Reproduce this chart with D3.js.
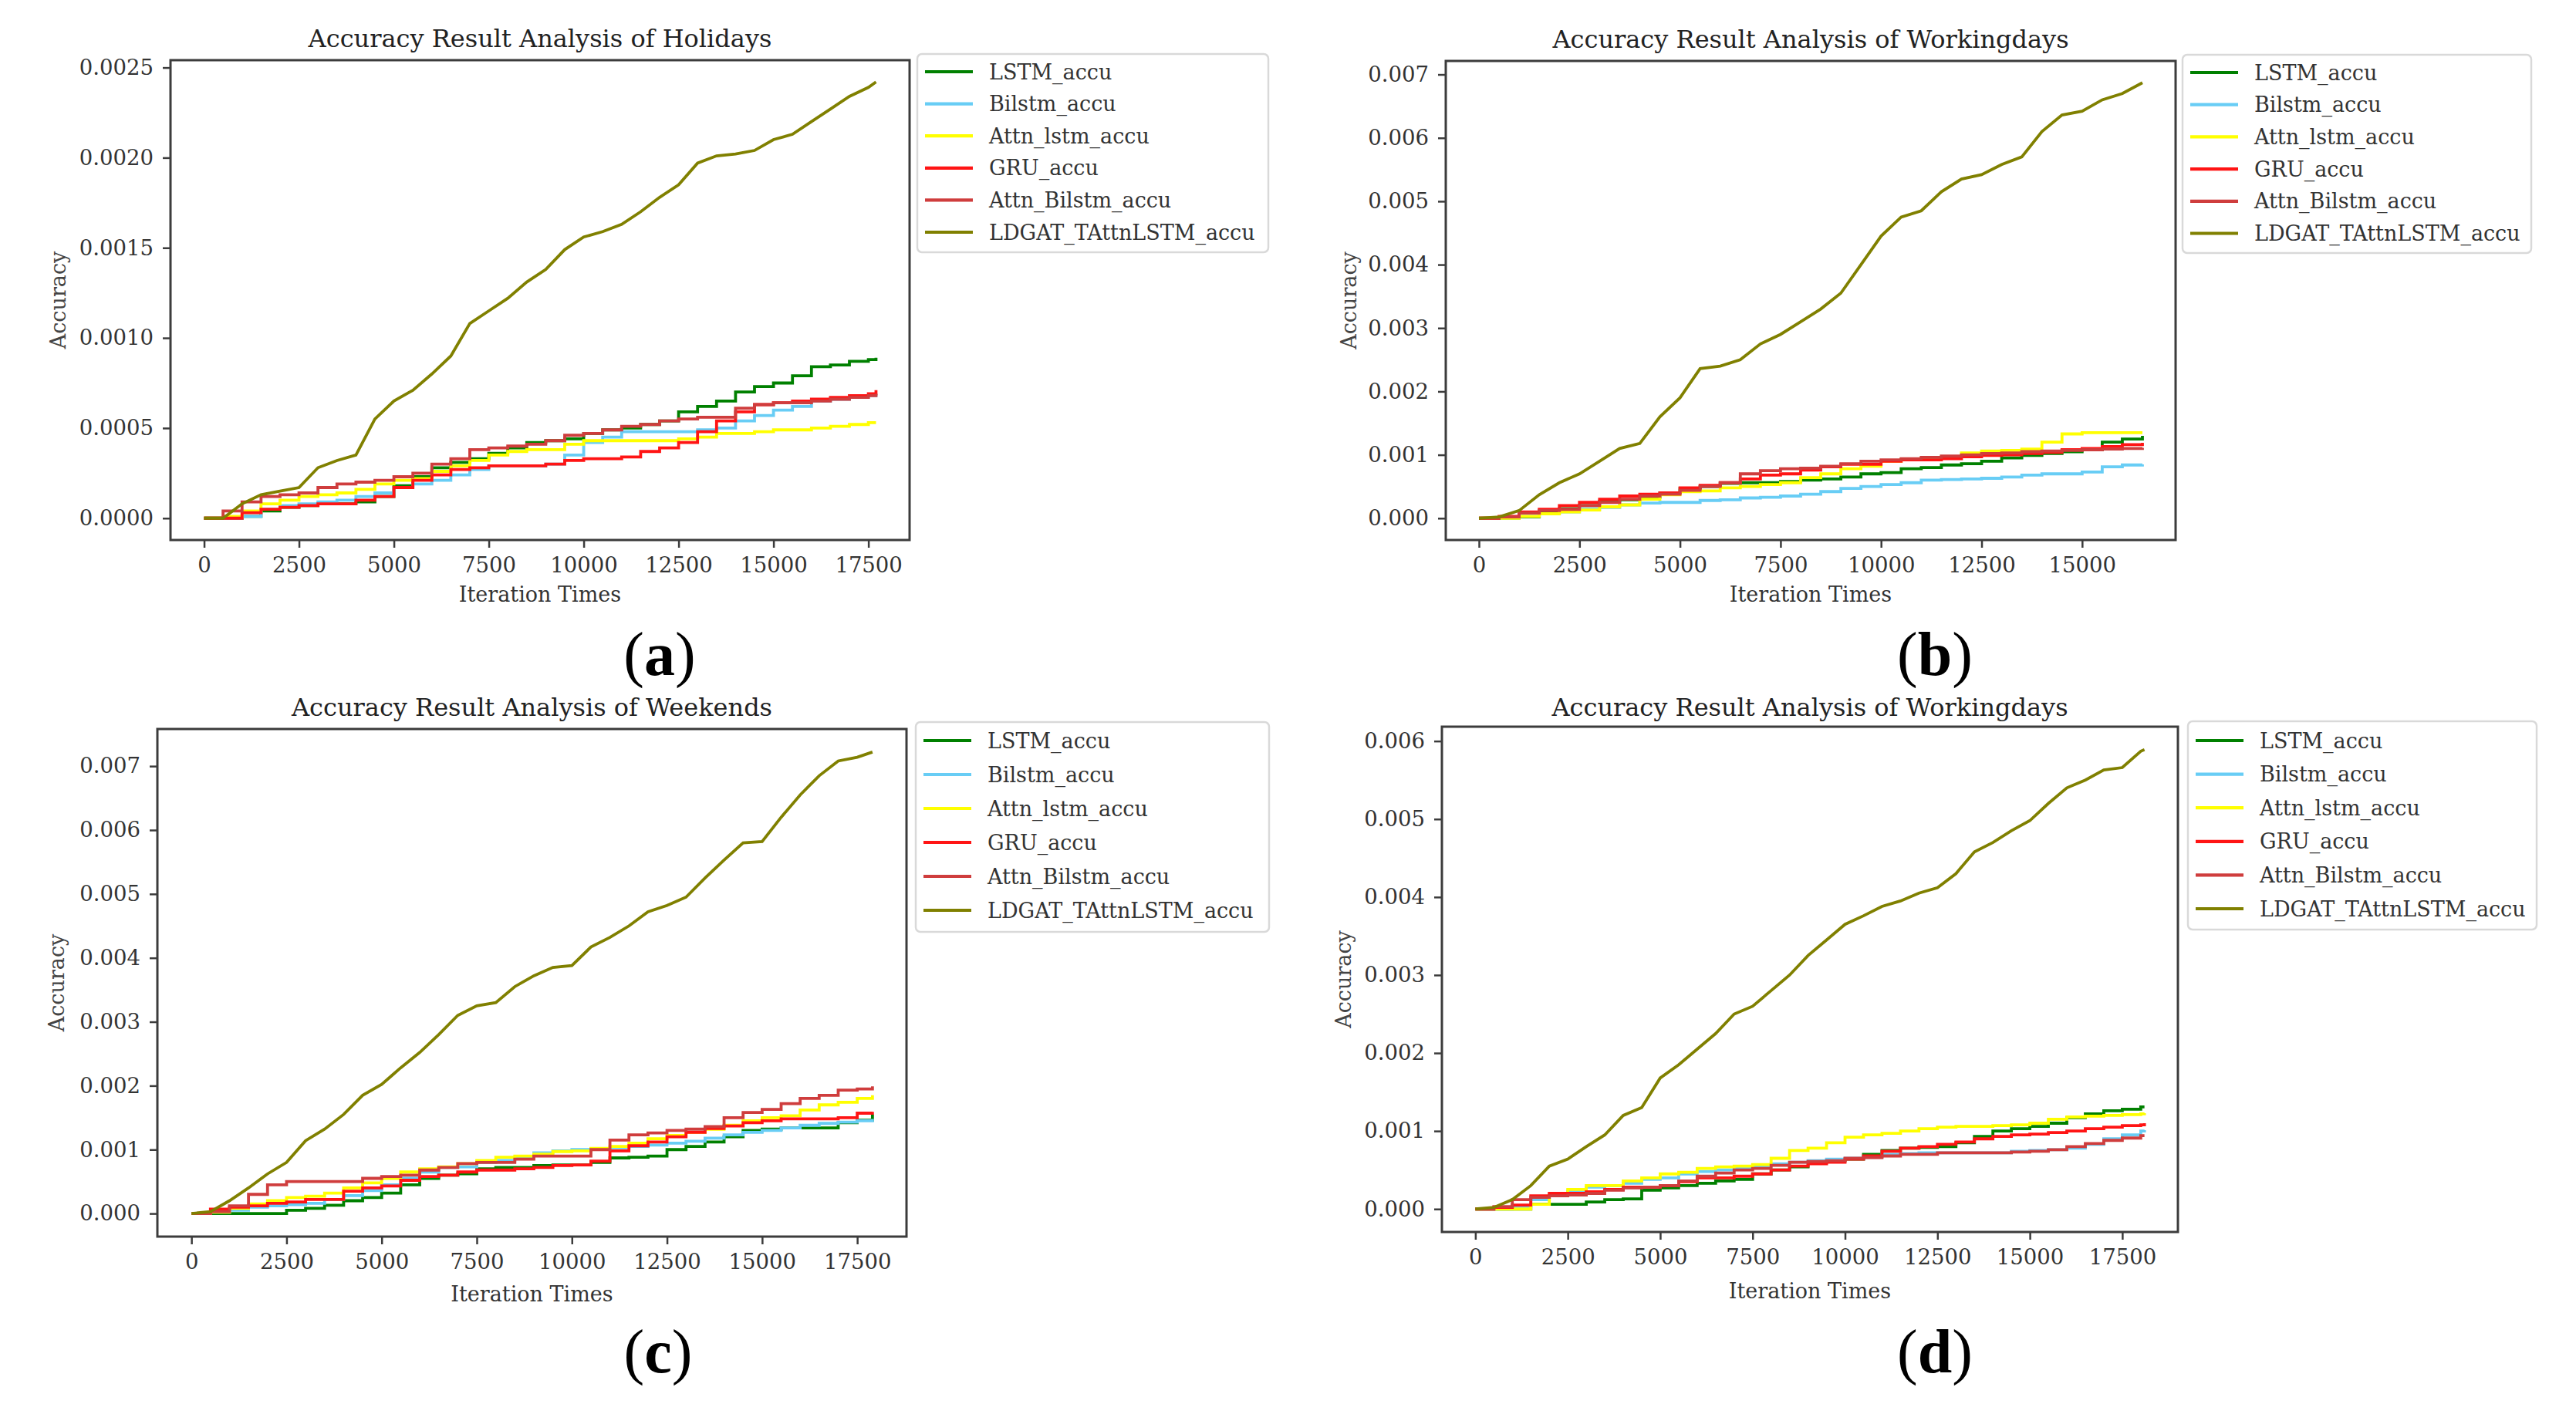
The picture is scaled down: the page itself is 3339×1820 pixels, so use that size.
<!DOCTYPE html>
<html>
<head>
<meta charset="utf-8">
<script src="https://cdn.jsdelivr.net/npm/d3@7"></script>
<style>
  body { margin: 0; background: #fff; }
  svg text { font-family: "DejaVu Serif", serif; }
</style>
</head>
<body>
<svg id="chart" width="3339" height="1820"></svg>
<script>
// ============================================
// DATA
// ============================================

const seriesNames = ['LSTM_accu', 'Bilstm_accu', 'Attn_lstm_accu', 'GRU_accu', 'Attn_Bilstm_accu', 'LDGAT_TAttnLSTM_accu'];
const seriesColors = ['#008000', '#68cdf5', '#ffff00', '#ff1414', '#cf3d3d', '#808000'];

const xTicksLong = [0, 2500, 5000, 7500, 10000, 12500, 15000, 17500];
const xTicksShort = [0, 2500, 5000, 7500, 10000, 12500, 15000];
const yTicksHolidays = [0, 0.0005, 0.0010, 0.0015, 0.0020, 0.0025];
const yTicksSeven = [0, 0.001, 0.002, 0.003, 0.004, 0.005, 0.006, 0.007];
const yTicksSix = [0, 0.001, 0.002, 0.003, 0.004, 0.005, 0.006];

// (a) Holidays
const itersA = [0, 500, 1000, 1500, 2000, 2500, 3000, 3500, 4000, 4500, 5000, 5500, 6000, 6500, 7000, 7500, 8000, 8500, 9000, 9500, 10000, 10500, 11000, 11500, 12000, 12500, 13000, 13500, 14000, 14500, 15000, 15500, 16000, 16500, 17000, 17500, 17700];
const lstmA = [0, 0, 0.00001, 0.00004, 0.00006, 0.00007, 0.00008, 0.00008, 0.00009, 0.00012, 0.00018, 0.00023, 0.00028, 0.00031, 0.00033, 0.00036, 0.00039, 0.00042, 0.00043, 0.00044, 0.00047, 0.00049, 0.00050, 0.00052, 0.00054, 0.00059, 0.00062, 0.00065, 0.00070, 0.00073, 0.00075, 0.00079, 0.00084, 0.00085, 0.00087, 0.00088, 0.00089];
const bilstmA = [0, 0, 0.00001, 0.00005, 0.00007, 0.00008, 0.00009, 0.00010, 0.00012, 0.00014, 0.00017, 0.00019, 0.00021, 0.00024, 0.00027, 0.00029, 0.00029, 0.00029, 0.00030, 0.00035, 0.00042, 0.00045, 0.00048, 0.00048, 0.00048, 0.00048, 0.00049, 0.00050, 0.00054, 0.00057, 0.00060, 0.00062, 0.00065, 0.00066, 0.00067, 0.00068, 0.00069];
const attnLstmA = [0, 0.00001, 0.00004, 0.00008, 0.00010, 0.00012, 0.00013, 0.00014, 0.00016, 0.00019, 0.00021, 0.00022, 0.00026, 0.00029, 0.00032, 0.00035, 0.00037, 0.00038, 0.00038, 0.00041, 0.00043, 0.00043, 0.00043, 0.00043, 0.00043, 0.00044, 0.00045, 0.00047, 0.00047, 0.00048, 0.00049, 0.00049, 0.00050, 0.00051, 0.00052, 0.00053, 0.00053];
const gruA = [0, 0, 0.00003, 0.00005, 0.00006, 0.00007, 0.00008, 0.00008, 0.00010, 0.00012, 0.00017, 0.00021, 0.00024, 0.00027, 0.00028, 0.00029, 0.00029, 0.00029, 0.00030, 0.00032, 0.00033, 0.00033, 0.00034, 0.00037, 0.00039, 0.00042, 0.00048, 0.00054, 0.00059, 0.00063, 0.00064, 0.00065, 0.00066, 0.00067, 0.00068, 0.00069, 0.00071];
const attnBilstmA = [0, 0.00004, 0.00009, 0.00012, 0.00013, 0.00014, 0.00017, 0.00019, 0.00020, 0.00021, 0.00023, 0.00025, 0.00030, 0.00033, 0.00038, 0.00039, 0.00040, 0.00041, 0.00043, 0.00046, 0.00047, 0.00049, 0.00051, 0.00052, 0.00054, 0.00055, 0.00056, 0.00056, 0.00061, 0.00063, 0.00064, 0.00064, 0.00065, 0.00066, 0.00067, 0.00068, 0.00069];
const ldgatA = [0, 0, 0.00008, 0.00013, 0.00015, 0.00017, 0.00028, 0.00032, 0.00035, 0.00055, 0.00065, 0.00071, 0.00080, 0.00090, 0.00108, 0.00115, 0.00122, 0.00131, 0.00138, 0.00149, 0.00156, 0.00159, 0.00163, 0.00170, 0.00178, 0.00185, 0.00197, 0.00201, 0.00202, 0.00204, 0.00210, 0.00213, 0.00220, 0.00227, 0.00234, 0.00239, 0.00242];

// (b) Workingdays
const itersB = [0, 500, 1000, 1500, 2000, 2500, 3000, 3500, 4000, 4500, 5000, 5500, 6000, 6500, 7000, 7500, 8000, 8500, 9000, 9500, 10000, 10500, 11000, 11500, 12000, 12500, 13000, 13500, 14000, 14500, 15000, 15500, 16000, 16500];
const lstmB = [0, 0, 0.00002, 0.00010, 0.00015, 0.00020, 0.00027, 0.00029, 0.00033, 0.00040, 0.00047, 0.00050, 0.00055, 0.00056, 0.00056, 0.00058, 0.00060, 0.00062, 0.00065, 0.00070, 0.00072, 0.00078, 0.00080, 0.00084, 0.00086, 0.00090, 0.00095, 0.00099, 0.00102, 0.00105, 0.00108, 0.00120, 0.00125, 0.00130];
const bilstmB = [0, 0, 0.00003, 0.00007, 0.00010, 0.00014, 0.00017, 0.00021, 0.00024, 0.00025, 0.00025, 0.00028, 0.00029, 0.00032, 0.00033, 0.00035, 0.00038, 0.00042, 0.00047, 0.00050, 0.00053, 0.00056, 0.00060, 0.00061, 0.00062, 0.00063, 0.00065, 0.00068, 0.00070, 0.00070, 0.00073, 0.00081, 0.00084, 0.00085];
const attnLstmB = [0, 0, 0.00003, 0.00007, 0.00010, 0.00013, 0.00018, 0.00021, 0.00030, 0.00037, 0.00042, 0.00043, 0.00048, 0.00050, 0.00053, 0.00056, 0.00064, 0.00070, 0.00078, 0.00082, 0.00090, 0.00093, 0.00095, 0.00097, 0.00103, 0.00106, 0.00107, 0.00109, 0.00120, 0.00133, 0.00135, 0.00135, 0.00135, 0.00135];
const gruB = [0, 0.00003, 0.00010, 0.00014, 0.00020, 0.00025, 0.00030, 0.00035, 0.00038, 0.00040, 0.00048, 0.00052, 0.00056, 0.00062, 0.00068, 0.00070, 0.00076, 0.00081, 0.00085, 0.00085, 0.00090, 0.00092, 0.00092, 0.00094, 0.00097, 0.00099, 0.00100, 0.00102, 0.00104, 0.00108, 0.00110, 0.00113, 0.00116, 0.00119];
const attnBilstmB = [0, 0.00002, 0.00008, 0.00012, 0.00014, 0.00020, 0.00025, 0.00030, 0.00035, 0.00038, 0.00044, 0.00050, 0.00056, 0.00070, 0.00075, 0.00078, 0.00079, 0.00082, 0.00086, 0.00090, 0.00092, 0.00094, 0.00096, 0.00098, 0.00100, 0.00102, 0.00103, 0.00105, 0.00106, 0.00107, 0.00108, 0.00109, 0.00110, 0.00111];
const ldgatB = [0, 0.00002, 0.00012, 0.00037, 0.00056, 0.00070, 0.00090, 0.00110, 0.00118, 0.00160, 0.00190, 0.00236, 0.00240, 0.00250, 0.00275, 0.00290, 0.00310, 0.00330, 0.00355, 0.00400, 0.00445, 0.00475, 0.00485, 0.00515, 0.00535, 0.00542, 0.00558, 0.00570, 0.00610, 0.00636, 0.00642, 0.00660, 0.00670, 0.00687];

// (c) Weekends
const itersC = [0, 500, 1000, 1500, 2000, 2500, 3000, 3500, 4000, 4500, 5000, 5500, 6000, 6500, 7000, 7500, 8000, 8500, 9000, 9500, 10000, 10500, 11000, 11500, 12000, 12500, 13000, 13500, 14000, 14500, 15000, 15500, 16000, 16500, 17000, 17500, 17900];
const lstmC = [0, 0, 0, 0, 0, 0.00005, 0.00008, 0.00013, 0.00020, 0.00025, 0.00032, 0.00045, 0.00055, 0.00060, 0.00062, 0.00070, 0.00072, 0.00072, 0.00075, 0.00076, 0.00076, 0.00080, 0.00087, 0.00088, 0.00090, 0.00100, 0.00105, 0.00112, 0.00120, 0.00130, 0.00132, 0.00134, 0.00134, 0.00134, 0.00142, 0.00146, 0.00155];
const bilstmC = [0, 0.00002, 0.00005, 0.00010, 0.00012, 0.00014, 0.00016, 0.00022, 0.00028, 0.00036, 0.00045, 0.00055, 0.00065, 0.00072, 0.00073, 0.00080, 0.00083, 0.00088, 0.00095, 0.00098, 0.00100, 0.00101, 0.00103, 0.00105, 0.00107, 0.00110, 0.00113, 0.00118, 0.00123, 0.00127, 0.00130, 0.00134, 0.00138, 0.00141, 0.00143, 0.00145, 0.00148];
const attnLstmC = [0, 0.00002, 0.00008, 0.00015, 0.00020, 0.00025, 0.00027, 0.00032, 0.00040, 0.00048, 0.00055, 0.00065, 0.00070, 0.00073, 0.00078, 0.00083, 0.00088, 0.00090, 0.00093, 0.00097, 0.00098, 0.00102, 0.00105, 0.00110, 0.00117, 0.00122, 0.00127, 0.00132, 0.00138, 0.00145, 0.00150, 0.00153, 0.00162, 0.00170, 0.00174, 0.00180, 0.00185];
const gruC = [0, 0.00007, 0.00010, 0.00012, 0.00016, 0.00018, 0.00022, 0.00022, 0.00035, 0.00040, 0.00043, 0.00052, 0.00058, 0.00060, 0.00065, 0.00068, 0.00068, 0.00070, 0.00072, 0.00075, 0.00076, 0.00082, 0.00098, 0.00106, 0.00112, 0.00120, 0.00127, 0.00133, 0.00137, 0.00142, 0.00145, 0.00148, 0.00148, 0.00148, 0.00150, 0.00157, 0.00159];
const attnBilstmC = [0, 0.00003, 0.00012, 0.00030, 0.00045, 0.00050, 0.00050, 0.00050, 0.00050, 0.00055, 0.00058, 0.00060, 0.00068, 0.00072, 0.00078, 0.00080, 0.00080, 0.00085, 0.00090, 0.00090, 0.00090, 0.00100, 0.00115, 0.00123, 0.00126, 0.00130, 0.00132, 0.00136, 0.00150, 0.00158, 0.00163, 0.00172, 0.00180, 0.00185, 0.00193, 0.00195, 0.00199];
const ldgatC = [0, 0.00003, 0.00020, 0.00040, 0.00062, 0.00080, 0.00114, 0.00132, 0.00155, 0.00185, 0.00202, 0.00228, 0.00252, 0.00280, 0.00310, 0.00325, 0.00330, 0.00355, 0.00372, 0.00385, 0.00388, 0.00417, 0.00432, 0.00450, 0.00472, 0.00482, 0.00495, 0.00525, 0.00553, 0.00580, 0.00582, 0.00620, 0.00655, 0.00685, 0.00708, 0.00714, 0.00722];

// (d) Workingdays
const itersD = [0, 500, 1000, 1500, 2000, 2500, 3000, 3500, 4000, 4500, 5000, 5500, 6000, 6500, 7000, 7500, 8000, 8500, 9000, 9500, 10000, 10500, 11000, 11500, 12000, 12500, 13000, 13500, 14000, 14500, 15000, 15500, 16000, 16500, 17000, 17500, 18000, 18100];
const lstmD = [0, 0, 0, 0.00006, 0.00006, 0.00006, 0.00009, 0.00012, 0.00013, 0.00024, 0.00027, 0.00030, 0.00033, 0.00036, 0.00038, 0.00045, 0.00050, 0.00054, 0.00060, 0.00062, 0.00064, 0.00070, 0.00075, 0.00078, 0.00079, 0.00080, 0.00085, 0.00093, 0.00100, 0.00103, 0.00106, 0.00110, 0.00117, 0.00122, 0.00126, 0.00128, 0.00131, 0.00131];
const bilstmD = [0, 0, 0.00003, 0.00012, 0.00018, 0.00023, 0.00028, 0.00030, 0.00033, 0.00038, 0.00040, 0.00045, 0.00048, 0.00050, 0.00052, 0.00055, 0.00058, 0.00060, 0.00062, 0.00064, 0.00065, 0.00067, 0.00070, 0.00071, 0.00072, 0.00072, 0.00072, 0.00072, 0.00072, 0.00074, 0.00075, 0.00076, 0.00078, 0.00083, 0.00090, 0.00095, 0.00100, 0.00101];
const attnLstmD = [0, 0, 0, 0.00006, 0.00018, 0.00025, 0.00030, 0.00030, 0.00036, 0.00040, 0.00045, 0.00047, 0.00052, 0.00054, 0.00055, 0.00057, 0.00065, 0.00075, 0.00078, 0.00085, 0.00092, 0.00095, 0.00097, 0.00100, 0.00103, 0.00105, 0.00106, 0.00106, 0.00107, 0.00108, 0.00110, 0.00115, 0.00118, 0.00119, 0.00120, 0.00121, 0.00122, 0.00123];
const gruD = [0, 0.00002, 0.00005, 0.00017, 0.00020, 0.00020, 0.00022, 0.00025, 0.00028, 0.00028, 0.00030, 0.00035, 0.00040, 0.00040, 0.00042, 0.00045, 0.00050, 0.00055, 0.00058, 0.00060, 0.00064, 0.00068, 0.00074, 0.00078, 0.00080, 0.00083, 0.00086, 0.00090, 0.00093, 0.00095, 0.00096, 0.00098, 0.00100, 0.00103, 0.00105, 0.00107, 0.00108, 0.00110];
const attnBilstmD = [0, 0.00003, 0.00012, 0.00015, 0.00017, 0.00018, 0.00020, 0.00024, 0.00027, 0.00028, 0.00030, 0.00036, 0.00042, 0.00046, 0.00050, 0.00052, 0.00056, 0.00060, 0.00061, 0.00062, 0.00065, 0.00066, 0.00068, 0.00070, 0.00070, 0.00072, 0.00072, 0.00072, 0.00072, 0.00073, 0.00074, 0.00076, 0.00080, 0.00084, 0.00088, 0.00091, 0.00094, 0.00094];
const ldgatD = [0, 0.00002, 0.00012, 0.00030, 0.00055, 0.00064, 0.00080, 0.00095, 0.00120, 0.00130, 0.00168, 0.00185, 0.00205, 0.00225, 0.00250, 0.00260, 0.00280, 0.00300, 0.00325, 0.00345, 0.00365, 0.00376, 0.00388, 0.00395, 0.00405, 0.00412, 0.00430, 0.00458, 0.00470, 0.00485, 0.00498, 0.00520, 0.00540, 0.00550, 0.00563, 0.00566, 0.00587, 0.00589];

// ============================================
// PANEL LAYOUT
// ============================================

const panels = [
    {
        title: 'Accuracy Result Analysis of Holidays', tag: 'a',
        iters: itersA, series: [lstmA, bilstmA, attnLstmA, gruA, attnBilstmA, ldgatA],
        xTicks: xTicksLong, yTicks: yTicksHolidays, yFormat: d3.format('.4f'),
        box: { left: 221, right: 1179, top: 78, bottom: 700 },
        legend: { x: 1189, y: 70, w: 455, h: 257, row0: 93, gap: 41.6 },
        titleY: 61, xLabelY: 780, yLabelX: 75, tagX: 855, tagY: 875
    },
    {
        title: 'Accuracy Result Analysis of Workingdays', tag: 'b',
        iters: itersB, series: [lstmB, bilstmB, attnLstmB, gruB, attnBilstmB, ldgatB],
        xTicks: xTicksShort, yTicks: yTicksSeven, yFormat: d3.format('.3f'),
        box: { left: 1874, right: 2820, top: 79, bottom: 700 },
        legend: { x: 2829, y: 71, w: 452, h: 257, row0: 94, gap: 41.7 },
        titleY: 62, xLabelY: 780, yLabelX: 1748, tagX: 2508, tagY: 875
    },
    {
        title: 'Accuracy Result Analysis of Weekends', tag: 'c',
        iters: itersC, series: [lstmC, bilstmC, attnLstmC, gruC, attnBilstmC, ldgatC],
        xTicks: xTicksLong, yTicks: yTicksSeven, yFormat: d3.format('.3f'),
        box: { left: 204, right: 1175, top: 945, bottom: 1603 },
        legend: { x: 1187, y: 936, w: 458, h: 272, row0: 960, gap: 44 },
        titleY: 928, xLabelY: 1687, yLabelX: 73, tagX: 853, tagY: 1779
    },
    {
        title: 'Accuracy Result Analysis of Workingdays', tag: 'd',
        iters: itersD, series: [lstmD, bilstmD, attnLstmD, gruD, attnBilstmD, ldgatD],
        xTicks: xTicksLong, yTicks: yTicksSix, yFormat: d3.format('.3f'),
        box: { left: 1869, right: 2823, top: 942, bottom: 1597 },
        legend: { x: 2836, y: 935, w: 452, h: 270, row0: 960, gap: 43.6 },
        titleY: 928, xLabelY: 1683, yLabelX: 1741, tagX: 2508, tagY: 1779
    }
];

const svg = d3.select('#chart');
svg.append('rect').attr('width', 3339).attr('height', 1820).attr('fill', '#fff');

panels.forEach(p => drawPanel(p));

// ============================================
// PANEL RENDERING
// ============================================

function drawPanel(p) {
    const b = p.box;
    const g = svg.append('g');

    // matplotlib-style 5% margins around the data
    const xMax = d3.max(p.iters);
    const yMax = d3.max(p.series, s => d3.max(s));
    const x = d3.scaleLinear().domain([-0.05 * xMax, 1.05 * xMax]).range([b.left, b.right]);
    const y = d3.scaleLinear().domain([-0.05 * yMax, 1.05 * yMax]).range([b.bottom, b.top]);

    // Baselines are stair-steps; the fast-rising LDGAT curve has many tiny
    // steps, which read as a jagged straight run at this sampling.
    const stepLine = d3.line().x(d => x(d[0])).y(d => y(d[1])).curve(d3.curveStepAfter);
    const runLine = d3.line().x(d => x(d[0])).y(d => y(d[1]));

    p.series.forEach((vals, i) => {
        const pts = p.iters.map((it, k) => [it, vals[k]]);
        const isLast = i === p.series.length - 1;
        g.append('path')
            .datum(pts)
            .attr('d', isLast ? runLine : stepLine)
            .attr('fill', 'none')
            .attr('stroke', seriesColors[i])
            .attr('stroke-width', 3.8)
            .attr('stroke-linejoin', 'miter');
    });

    // Axes
    const xAxis = g.append('g')
        .attr('transform', `translate(0,${b.bottom})`)
        .call(d3.axisBottom(x).tickValues(p.xTicks).tickFormat(d3.format('d')).tickSize(10).tickPadding(12));
    const yAxis = g.append('g')
        .attr('transform', `translate(${b.left},0)`)
        .call(d3.axisLeft(y).tickValues(p.yTicks).tickFormat(p.yFormat).tickSize(10).tickPadding(12));

    [xAxis, yAxis].forEach(ax => {
        ax.select('.domain').remove();
        ax.selectAll('.tick line').attr('stroke', '#3c3c3c').attr('stroke-width', 2.5);
        ax.selectAll('.tick text')
            .attr('fill', '#333')
            .style('font-family', '"DejaVu Serif", serif')
            .style('font-size', '27.5px');
    });

    // Frame
    g.append('rect')
        .attr('x', b.left).attr('y', b.top)
        .attr('width', b.right - b.left).attr('height', b.bottom - b.top)
        .attr('fill', 'none')
        .attr('stroke', '#3c3c3c')
        .attr('stroke-width', 3);

    // Title and axis labels
    g.append('text')
        .attr('x', (b.left + b.right) / 2).attr('y', p.titleY)
        .attr('text-anchor', 'middle')
        .attr('fill', '#222')
        .style('font-size', '32px')
        .text(p.title);

    g.append('text')
        .attr('x', (b.left + b.right) / 2).attr('y', p.xLabelY)
        .attr('text-anchor', 'middle')
        .attr('fill', '#333')
        .style('font-size', '27px')
        .text('Iteration Times');

    g.append('text')
        .attr('transform', `translate(${p.yLabelX},${(b.top + b.bottom) / 2}) rotate(-90)`)
        .attr('text-anchor', 'middle')
        .attr('dominant-baseline', 'central')
        .attr('fill', '#444')
        .style('font-size', '27px')
        .text('Accuracy');

    // Legend
    const L = p.legend;
    const lg = g.append('g');
    lg.append('rect')
        .attr('x', L.x).attr('y', L.y)
        .attr('width', L.w).attr('height', L.h)
        .attr('rx', 6)
        .attr('fill', '#fff')
        .attr('stroke', '#d9d9d9')
        .attr('stroke-width', 2.5);

    seriesNames.forEach((name, i) => {
        const ry = L.row0 + i * L.gap;
        lg.append('line')
            .attr('x1', L.x + 10).attr('x2', L.x + 72)
            .attr('y1', ry).attr('y2', ry)
            .attr('stroke', seriesColors[i])
            .attr('stroke-width', 4.2);
        lg.append('text')
            .attr('x', L.x + 93).attr('y', ry)
            .attr('dominant-baseline', 'central')
            .attr('fill', '#333')
            .style('font-size', '27px')
            .text(name);
    });

    // Sub-figure tag, e.g. (a)
    const tag = svg.append('text')
        .attr('x', p.tagX).attr('y', p.tagY)
        .attr('text-anchor', 'middle')
        .attr('fill', '#000')
        .style('font-family', '"Liberation Serif", serif')
        .style('font-size', '80px');
    tag.append('tspan').text('(');
    tag.append('tspan').style('font-weight', 'bold').text(p.tag);
    tag.append('tspan').text(')');
}
</script>
</body>
</html>
